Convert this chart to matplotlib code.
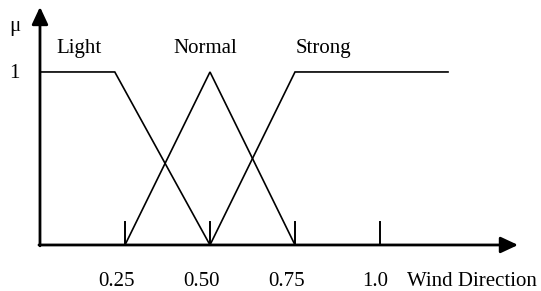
import matplotlib.pyplot as plt

# membership functions (x, mu)
light_x = [0.0, 0.22, 0.5]
light_y = [1, 1, 0]
normal_x = [0.25, 0.5, 0.75]
normal_y = [0, 1, 0]
strong_x = [0.5, 0.75, 1.2]
strong_y = [0, 1, 1]

set_names = ["Light", "Normal", "Strong"]
tick_values = [0.25, 0.5, 0.75, 1.0]
tick_labels = ["0.25", "0.50", "0.75", "1.0"]

plt.rcParams['font.family'] = ['Liberation Serif', 'DejaVu Serif']

fig = plt.figure(figsize=(5.41, 2.91), dpi=100)
ax = fig.add_axes([0, 0, 1, 1])
ax.set_xlim(-0.1176, 1.4735)
ax.set_ylim(-0.266, 1.416)
ax.axis('off')

# curves
for xs, ys in [(light_x, light_y), (normal_x, normal_y), (strong_x, strong_y)]:
    ax.plot(xs, ys, color='black', lw=1.2, solid_joinstyle='miter')

# axes with arrows
arrow = dict(arrowstyle='-|>,head_length=0.75,head_width=0.35', mutation_scale=14,
             lw=2.0, color='black', shrinkA=0, shrinkB=0)
ax.annotate('', xy=(1.406, 0), xytext=(-0.003, 0), arrowprops=arrow)
ax.annotate('', xy=(0, 1.376), xytext=(0, -0.005), arrowprops=arrow)

# tick marks
for t in tick_values:
    ax.plot([t, t], [0, 0.13], color='black', lw=1.4)

fs = 15
# tick labels sit a little left of their ticks
for t, lab in zip(tick_values, tick_labels):
    xpos = t - 0.025 if t < 1.0 else t - 0.015
    ax.text(xpos, -0.237, lab, ha='center', va='baseline', fontsize=fs)
ax.text(1.08, -0.237, "Wind Direction", ha='left', va='baseline', fontsize=fs)

ax.text(-0.074, 1.234, "μ", ha='center', va='baseline', fontsize=fs)
ax.text(-0.074, 0.965, "1", ha='center', va='baseline', fontsize=fs)

label_x = [0.116, 0.485, 0.835]
for name, lx in zip(set_names, label_x):
    ax.text(lx, 1.11, name, ha='center', va='baseline', fontsize=fs)

fig.savefig("out.png", dpi=100)
